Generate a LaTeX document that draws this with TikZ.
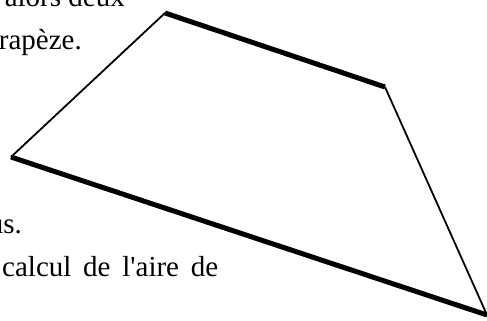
\documentclass[tikz,border=0pt]{standalone}
\usepackage{fontspec}
\setmainfont{Liberation Serif}[Ligatures=TeXOff]
\begin{document}
\begin{tikzpicture}[x=1bp,y=-1bp,
  txt/.style={inner sep=0pt,font=\fontsize{29bp}{35bp}\selectfont},
  thickedge/.style={line width=5bp,line cap=butt},
  thinedge/.style={line width=1.8bp}]
\useasboundingbox (0,0) rectangle (487,320);
\coordinate (A) at (165,13);
\coordinate (B) at (385,87);
\coordinate (C) at (487,315);
\coordinate (D) at (11,157);
\draw[thinedge] (D) -- (A);
\draw[thinedge] (B) -- (C);
\draw[thickedge] (A) -- (B);
\draw[thickedge] (D) -- (C);
\node[txt,anchor=base east] (t1) at (125,6) {alors deux};
\node[txt,anchor=base east] (t2) at (82,49) {rapèze.};
\node[txt,anchor=base east] (t3) at (22,233) {us.};
\node[txt,anchor=base west] (t4) at (2,276) {\makebox[216bp][s]{calcul de l'aire de}};
\end{tikzpicture}
\end{document}
